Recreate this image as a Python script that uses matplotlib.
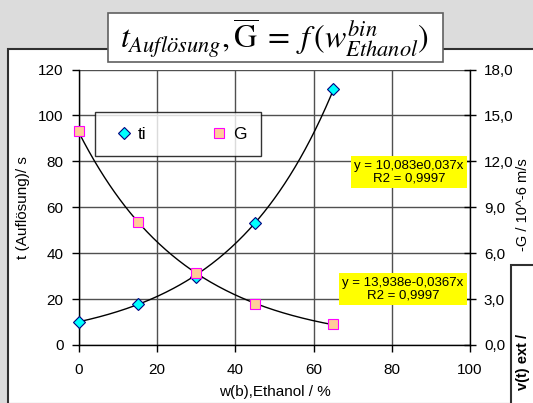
import numpy as np
import matplotlib
matplotlib.use('Agg')
import matplotlib.pyplot as plt
from matplotlib.patches import Rectangle
from matplotlib.lines import Line2D

# data
w_eth = [0, 15, 30, 45, 65]
ti = [10.1, 18.0, 29.8, 53.2, 111.6]
G = [14.0, 8.05, 4.7, 2.65, 1.35]

x_ticks = [0, 20, 40, 60, 80, 100]
y_ticks = [0, 20, 40, 60, 80, 100, 120]
y2_ticks = [0, 3, 6, 9, 12, 15, 18]

eq_ti = "y = 10,083e0,037x\nR2 = 0,9997"
eq_G = "y = 13,938e-0,0367x\nR2 = 0,9997"

plt.rcParams['font.family'] = ['Liberation Sans', 'DejaVu Sans']
plt.rcParams['mathtext.fontset'] = 'stix'

W, H = 533, 403
fig = plt.figure(figsize=(W / 100, H / 100), dpi=100)
fig.patch.set_facecolor('#dcdcdc')

def fx(px):
    return px / W

def fy(py):
    return 1 - py / H

# white chart sheet with dark border (behind the axes)
fig.patches.append(Rectangle((fx(8), fy(404)), fx(540 - 8), fy(49) - fy(404),
                             transform=fig.transFigure, facecolor='white',
                             edgecolor='#303030', linewidth=1.5, zorder=-5))

ax = fig.add_axes([fx(79), fy(345), fx(470 - 79), fy(69.5) - fy(345)])
ax.set_facecolor('none')
ax.set_xlim(0, 100)
ax.set_ylim(0, 120)
ax.set_xticks(x_ticks)
ax.set_yticks(y_ticks)
ax.grid(True, color='#505050', linewidth=1.0)
ax.set_axisbelow(True)
for s in ['top', 'right']:
    ax.spines[s].set_visible(False)
ax.spines['left'].set_linewidth(1.0)
ax.spines['bottom'].set_linewidth(1.0)
ax.tick_params(axis='both', labelsize=11, direction='out', length=5, width=1.0, pad=6)
ax.tick_params(axis='x', pad=8)

ax2 = ax.twinx()
ax2.set_ylim(0, 18)
ax2.set_yticks(y2_ticks)
ax2.set_yticklabels([('%.1f' % v).replace('.', ',') for v in y2_ticks])
for s in ['top', 'left', 'bottom']:
    ax2.spines[s].set_visible(False)
ax2.spines['right'].set_linewidth(1.0)
ax2.tick_params(axis='y', labelsize=11, direction='inout', length=8, width=1.0, pad=6)

# exponential trendlines (least squares on log values)
xs = np.linspace(0, 65, 200)
b1, a1 = np.polyfit(w_eth, np.log(ti), 1)
b2, a2 = np.polyfit(w_eth, np.log(G), 1)
ax.plot(xs, np.exp(a1 + b1 * xs), color='black', linewidth=1.0, zorder=3)
ax2.plot(xs, np.exp(a2 + b2 * xs), color='black', linewidth=1.0, zorder=3)

ax.plot(w_eth, ti, linestyle='none', marker='D', markersize=6.5,
        markerfacecolor='#00ffff', markeredgecolor='#000080',
        markeredgewidth=0.8, zorder=4, clip_on=False)
ax2.plot(w_eth, G, linestyle='none', marker='s', markersize=7.5,
         markerfacecolor='#ffcc99', markeredgecolor='#ff00ff',
         markeredgewidth=0.8, zorder=4, clip_on=False)

ax.set_xlabel('w(b),Ethanol / %', fontsize=11, labelpad=6)
ax.set_ylabel('t (Auflösung)/ s', fontsize=11, labelpad=6)

# legend box
handles = [Line2D([], [], linestyle='none', marker='D', markersize=6.5,
                  markerfacecolor='#00ffff', markeredgecolor='#000080', markeredgewidth=0.8),
           Line2D([], [], linestyle='none', marker='s', markersize=7.5,
                  markerfacecolor='#ffcc99', markeredgecolor='#ff00ff', markeredgewidth=0.8)]
leg = ax2.legend(handles, ['ti', 'G'], ncol=2, loc='upper left',
                 bbox_to_anchor=((95 - 79) / 391, 1 - (111.7 - 69.5) / 275.5),
                 fontsize=12.5, frameon=True, fancybox=False, shadow=False,
                 borderpad=0.85, columnspacing=3.4, handletextpad=0.0,
                 handlelength=1.6, borderaxespad=0)
leg.get_frame().set_edgecolor('black')
leg.get_frame().set_linewidth(1.0)

# equation labels
fig.text(fx(409), fy(172), eq_ti, fontsize=9.5, ha='center', va='center',
         linespacing=1.05,
         bbox=dict(boxstyle='square,pad=0.25', facecolor='#ffff00', edgecolor='none'))
fig.text(fx(403), fy(289), eq_G, fontsize=9.5, ha='center', va='center',
         linespacing=1.05,
         bbox=dict(boxstyle='square,pad=0.25', facecolor='#ffff00', edgecolor='none'))

# right axis label
fig.text(fx(523), fy(205), '-G / 10^-6 m/s', fontsize=10.5, rotation=90,
         ha='center', va='center')

# overlapping second chart at bottom right
fig.patches.append(Rectangle((fx(511), fy(420)), fx(60), fy(265) - fy(420),
                             transform=fig.transFigure, facecolor='white',
                             edgecolor='#303030', linewidth=1.5, zorder=5))
fig.text(fx(523), fy(362), 'v(t) ext /', fontsize=10.5, fontweight='bold',
         rotation=90, ha='center', va='center', zorder=6)

# title box
fig.patches.append(Rectangle((fx(108), fy(62)), fx(443 - 108), fy(13) - fy(62),
                             transform=fig.transFigure, facecolor='white',
                             edgecolor='#606060', linewidth=1.2, zorder=7))
fig.text(fx(275), fy(38),
         r'$t_{Auflösung},\overline{\mathrm{G}}\;=\;f\,(w^{bin}_{Ethanol})$',
         fontsize=23, ha='center', va='center', zorder=8)

fig.savefig('out.png', dpi=100, facecolor=fig.get_facecolor())
